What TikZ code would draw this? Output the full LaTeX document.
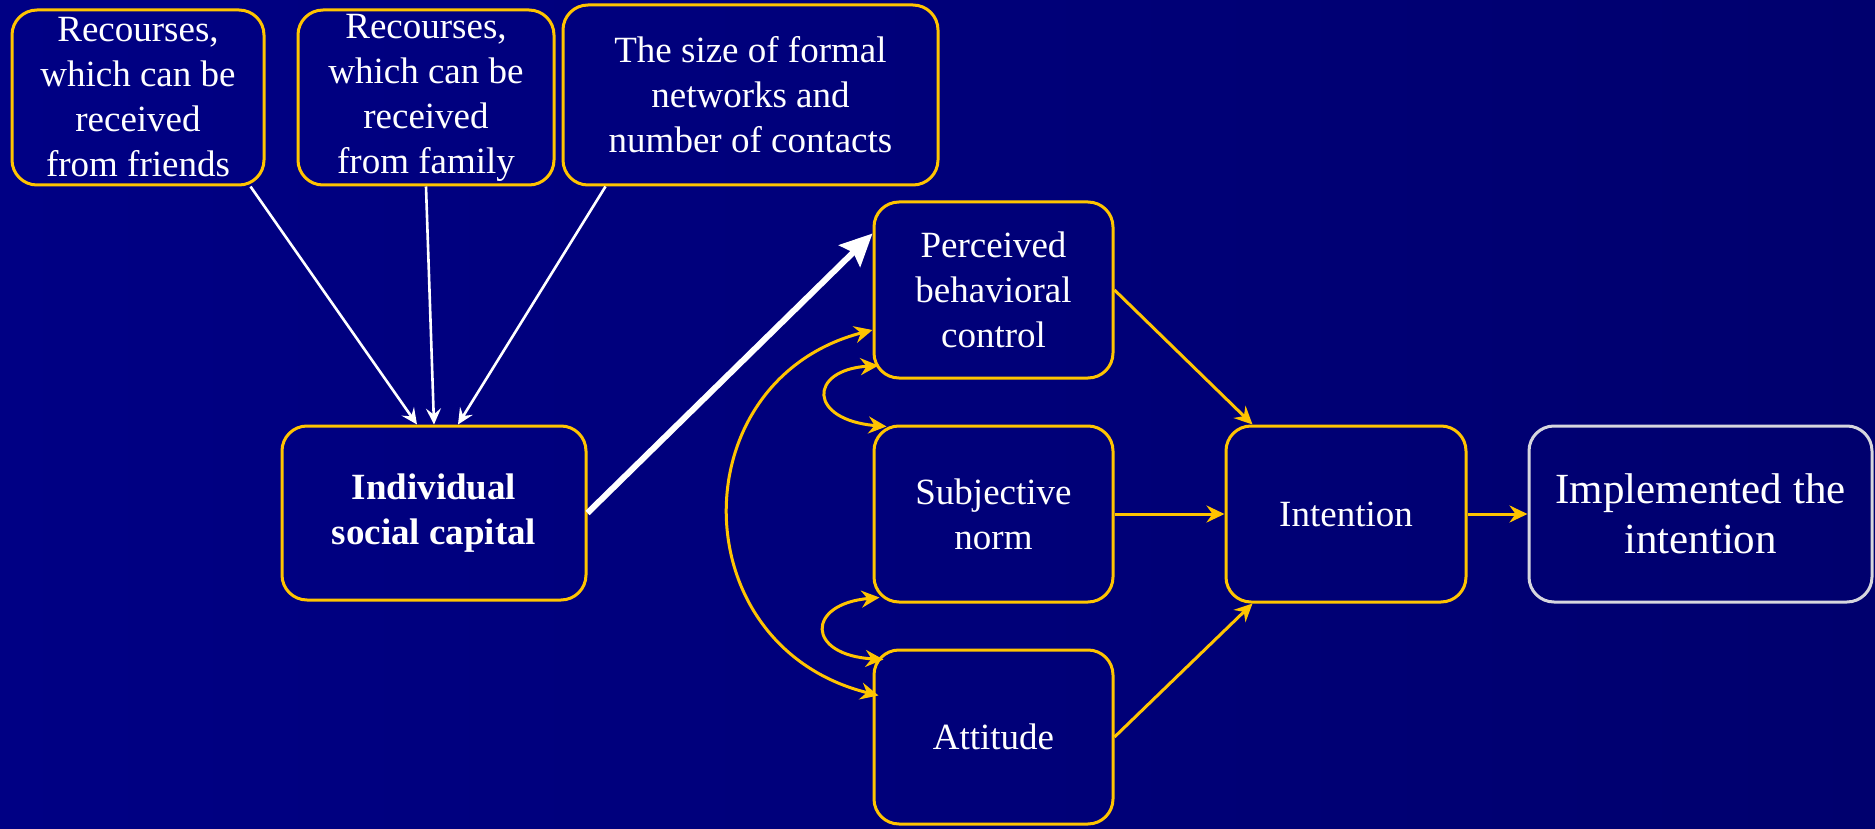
\documentclass[tikz,border=0pt]{standalone}
\usepackage{fontspec}
\setmainfont{Liberation Serif}
\usetikzlibrary{arrows.meta}

\definecolor{navyL}{RGB}{0,0,132}
\definecolor{navyR}{RGB}{0,0,110}
\definecolor{gold}{RGB}{255,196,0}
\definecolor{paleline}{RGB}{214,214,222}

\tikzset{
  box/.style={draw=gold, line width=3pt, rounded corners=25pt, inner sep=0pt,
    align=center, text=white, font=\fontsize{37}{45}\selectfont},
  flow/.style={draw=gold, line width=3pt,
    -{Stealth[length=18pt,width=17pt,inset=6pt]}},
  mutual/.style={draw=gold, line width=3pt,
    {Stealth[length=18pt,width=17pt,inset=6pt]}-{Stealth[length=18pt,width=17pt,inset=6pt]}},
  feed/.style={draw=white, line width=2.6pt,
    -{Stealth[length=16pt,width=15pt,inset=6pt]}},
  bigflow/.style={draw=white, line width=6pt,
    -{Stealth[length=32pt,width=30pt,inset=5pt]}}
}

\begin{document}
\begin{tikzpicture}[x=1pt,y=-1pt]
  % backdrop
  \useasboundingbox (0,0) rectangle (1875,829);
  \shade[left color=navyL, right color=navyR] (0,0) rectangle (1875,829);

  % sources of social capital
  \node[box, minimum width=252pt, minimum height=175pt] (friends) at (138,97.5)
    {Recourses,\\which can be\\received\\from friends};
  \node[box, minimum width=256pt, minimum height=175pt] (family) at (426,97.5)
    {Recourses,\\which can be\\received\\from family};
  \node[box, minimum width=375pt, minimum height=180pt] (formal) at (750.5,95)
    {The size of formal\\networks and\\number of contacts};

  % central construct
  \node[box, minimum width=304pt, minimum height=174pt,
    font=\fontsize{37}{45}\selectfont\bfseries] (isc) at (434,513)
    {Individual\\social capital};

  % TPB predictors
  \node[box, minimum width=239pt, minimum height=176pt] (pbc) at (993.5,290)
    {Perceived\\behavioral\\control};
  \node[box, minimum width=239pt, minimum height=176pt] (sn) at (993.5,514)
    {Subjective\\norm};
  \node[box, minimum width=239pt, minimum height=174pt] (att) at (993.5,737)
    {Attitude};

  % outcome chain
  \node[box, minimum width=240pt, minimum height=176pt] (int) at (1346,514)
    {Intention};
  \node[box, draw=paleline, minimum width=343pt, minimum height=176pt,
    font=\fontsize{43}{50}\selectfont] (impl) at (1700.5,514)
    {Implemented the\\intention};

  % inputs to social capital
  \draw[feed] ([xshift=-15pt]friends.south east) -- ([xshift=-17pt]isc.north);
  \draw[feed] (family.south) -- (isc.north);
  \draw[feed] ([xshift=44pt]formal.south west) -- ([xshift=24pt]isc.north);

  % social capital to perceived control
  \draw[bigflow] (isc.east) -- ([yshift=-33pt]pbc.north west);

  % predictors to intention
  \draw[flow] (pbc.east) -- ([xshift=28pt]int.north west);
  \draw[flow] (sn.east) -- (int.west);
  \draw[flow] (att.east) -- ([xshift=28pt]int.south west);
  \draw[flow] (int.east) -- (impl.west);

  % correlations between predictors
  \draw[mutual] ([xshift=6pt,yshift=14pt]pbc.south west)
    .. controls (808,370) and (808,420) .. ([xshift=14pt,yshift=-2pt]sn.north west);
  \draw[mutual] ([xshift=7pt,yshift=6pt]sn.south west)
    .. controls (806,604) and (806,655) .. ([xshift=11pt,yshift=-11pt]att.north west);
  \draw[mutual] ([yshift=-40pt]pbc.west)
    .. controls (680,380) and (680,646) .. ([xshift=6pt,yshift=-47pt]att.north west);
\end{tikzpicture}
\end{document}
